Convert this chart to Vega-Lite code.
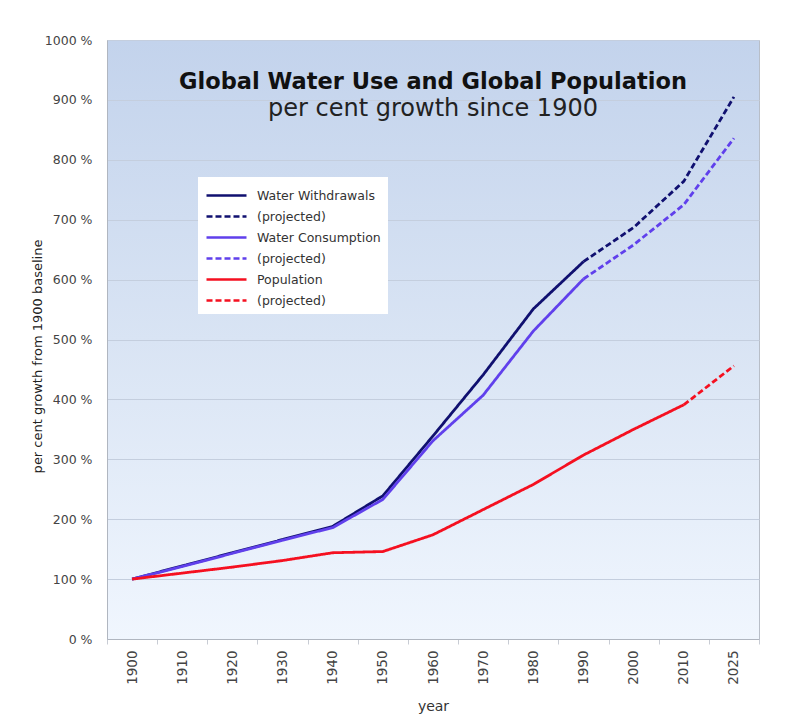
{
  "$schema": "https://vega.github.io/schema/vega-lite/v6.json",
  "width": 652,
  "height": 599,
  "autosize": {"type": "none"},
  "padding": {"left": 107, "top": 40, "right": 37, "bottom": 89},
  "background": "white",
  "title": {
    "text": "Global Water Use and Global Population",
    "subtitle": "per cent growth since 1900",
    "anchor": "middle",
    "frame": "group",
    "orient": "top",
    "offset": -87,
    "font": "DejaVu Sans",
    "fontSize": 22.5,
    "fontWeight": "bold",
    "color": "#111111",
    "subtitleFont": "DejaVu Sans",
    "subtitleFontSize": 24,
    "subtitleColor": "#222222",
    "subtitlePadding": 4
  },
  "data": {
    "values": [
      {"year": 1900, "value": 100, "series": "Water Withdrawals"},
      {"year": 1910, "value": 122, "series": "Water Withdrawals"},
      {"year": 1920, "value": 144, "series": "Water Withdrawals"},
      {"year": 1930, "value": 166, "series": "Water Withdrawals"},
      {"year": 1940, "value": 188, "series": "Water Withdrawals"},
      {"year": 1950, "value": 239, "series": "Water Withdrawals"},
      {"year": 1960, "value": 339, "series": "Water Withdrawals"},
      {"year": 1970, "value": 441, "series": "Water Withdrawals"},
      {"year": 1980, "value": 551, "series": "Water Withdrawals"},
      {"year": 1990, "value": 630, "series": "Water Withdrawals"},
      {"year": 1990, "value": 630, "series": "Water Withdrawals (projected)"},
      {"year": 2000, "value": 687, "series": "Water Withdrawals (projected)"},
      {"year": 2010, "value": 764, "series": "Water Withdrawals (projected)"},
      {"year": 2025, "value": 905, "series": "Water Withdrawals (projected)"},
      {"year": 1900, "value": 100, "series": "Water Consumption"},
      {"year": 1910, "value": 121, "series": "Water Consumption"},
      {"year": 1920, "value": 143, "series": "Water Consumption"},
      {"year": 1930, "value": 165, "series": "Water Consumption"},
      {"year": 1940, "value": 186, "series": "Water Consumption"},
      {"year": 1950, "value": 233, "series": "Water Consumption"},
      {"year": 1960, "value": 331, "series": "Water Consumption"},
      {"year": 1970, "value": 407, "series": "Water Consumption"},
      {"year": 1980, "value": 514, "series": "Water Consumption"},
      {"year": 1990, "value": 601, "series": "Water Consumption"},
      {"year": 1990, "value": 601, "series": "Water Consumption (projected)"},
      {"year": 2000, "value": 658, "series": "Water Consumption (projected)"},
      {"year": 2010, "value": 725, "series": "Water Consumption (projected)"},
      {"year": 2025, "value": 836, "series": "Water Consumption (projected)"},
      {"year": 1900, "value": 100, "series": "Population"},
      {"year": 1910, "value": 110, "series": "Population"},
      {"year": 1920, "value": 120, "series": "Population"},
      {"year": 1930, "value": 131, "series": "Population"},
      {"year": 1940, "value": 144, "series": "Population"},
      {"year": 1950, "value": 146, "series": "Population"},
      {"year": 1960, "value": 174, "series": "Population"},
      {"year": 1970, "value": 216, "series": "Population"},
      {"year": 1980, "value": 258, "series": "Population"},
      {"year": 1990, "value": 307, "series": "Population"},
      {"year": 2000, "value": 350, "series": "Population"},
      {"year": 2010, "value": 391, "series": "Population"},
      {"year": 2010, "value": 391, "series": "Population (projected)"},
      {"year": 2025, "value": 456, "series": "Population (projected)"}
    ]
  },
  "mark": {"type": "line", "strokeWidth": 2.8},
  "encoding": {
    "x": {
      "field": "year",
      "type": "ordinal",
      "scale": {"type": "band", "paddingInner": 0, "paddingOuter": 0},
      "axis": {
        "title": "year",
        "labelAngle": 270,
        "labelAlign": "right",
        "labelBaseline": "middle",
        "labelPadding": 6,
        "labelFont": "DejaVu Sans",
        "labelFontSize": 13.5,
        "labelColor": "#444444",
        "tickBand": "extent",
        "tickColor": "#c8ccd4",
        "tickSize": 5,
        "domainColor": "#b0b6c0",
        "titleFont": "DejaVu Sans",
        "titleFontSize": 14,
        "titleFontWeight": "normal",
        "titleColor": "#333333",
        "titlePadding": 15
      }
    },
    "y": {
      "field": "value",
      "type": "quantitative",
      "scale": {"domain": [0, 1000]},
      "axis": {
        "title": "per cent growth from 1900 baseline",
        "values": [0, 100, 200, 300, 400, 500, 600, 700, 800, 900, 1000],
        "labelExpr": "datum.value + ' %'",
        "ticks": false,
        "labelPadding": 15,
        "labelFont": "DejaVu Sans",
        "labelFontSize": 12.5,
        "labelColor": "#444444",
        "domainColor": "#b0b6c0",
        "gridColor": "#c4cede",
        "gridWidth": 1,
        "titleFont": "DejaVu Sans",
        "titleFontSize": 13,
        "titleFontWeight": "normal",
        "titleColor": "#222222",
        "titlePadding": 0,
        "titleY": 316
      }
    },
    "color": {
      "field": "series",
      "type": "nominal",
      "scale": {
        "domain": ["Water Withdrawals", "Water Withdrawals (projected)", "Water Consumption", "Water Consumption (projected)", "Population", "Population (projected)"],
        "range": ["#101070", "#101070", "#6040ec", "#6040ec", "#f51020", "#f51020"]
      },
      "legend": {
        "title": null,
        "orient": "none",
        "legendX": 91,
        "legendY": 137,
        "fillColor": "white",
        "padding": 7,
        "rowPadding": 3,
        "symbolType": "M-1,0L3,0",
        "symbolSize": 400,
        "symbolStrokeWidth": 2.6,
        "labelExpr": "indexof(datum.label, 'projected') >= 0 ? '(projected)' : datum.label",
        "labelFont": "DejaVu Sans",
        "labelFontSize": 12.5,
        "labelColor": "#333333",
        "labelOffset": 29
      }
    },
    "strokeDash": {
      "field": "series",
      "type": "nominal",
      "scale": {
        "domain": ["Water Withdrawals", "Water Withdrawals (projected)", "Water Consumption", "Water Consumption (projected)", "Population", "Population (projected)"],
        "range": [[1, 0], [6, 3], [1, 0], [6, 3], [1, 0], [6, 3]]
      }
    }
  },
  "config": {
    "view": {
      "fill": {
        "gradient": "linear",
        "x1": 0, "y1": 0, "x2": 0, "y2": 1,
        "stops": [
          {"offset": 0, "color": "#c3d3ec"},
          {"offset": 0.5, "color": "#d9e4f4"},
          {"offset": 1, "color": "#f0f6fe"}
        ]
      },
      "stroke": "#b8bec8"
    }
  }
}
